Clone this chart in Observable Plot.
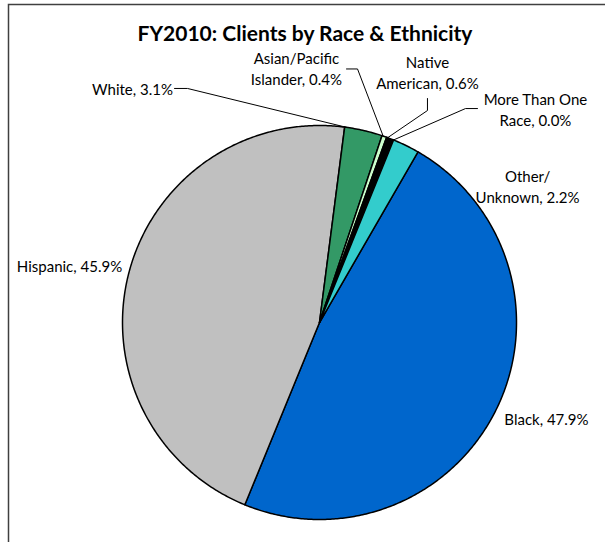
<!DOCTYPE html>
<html><head><meta charset="utf-8">
<script src="https://cdn.jsdelivr.net/npm/d3@7"></script>
<script src="https://cdn.jsdelivr.net/npm/@observablehq/plot@0.6"></script>
<style>
html,body{margin:0;padding:0;overflow:hidden;background:#fff;}
</style></head><body><div id="chart"></div>
<script>
// ---- data ----
const categories = ["Black","Hispanic","White","Asian/Pacific Islander","Native American","More Than One Race","Other/Unknown"];
const percents = [47.9,45.9,3.1,0.4,0.6,0.0,2.2];
const labelTexts = ["Black, 47.9%","Hispanic, 45.9%","White, 3.1%","Asian/Pacific\nIslander, 0.4%","Native\nAmerican, 0.6%","More Than One\nRace, 0.0%","Other/\nUnknown, 2.2%"];
const titleText = "FY2010: Clients by Race & Ethnicity";

// ---- style / layout ----
const colors = ["#0066CC","#C0C0C0","#339966","#CCFFCC","#000000","#FFFFFF","#33CCCC"];
const firstSliceAngle = 30; // degrees clockwise from 12 o'clock
// label centres in pie-radius units (x right, y up, pie centre = 0,0)
const labelPos = [[1.152,-0.487],[-1.269,0.289],[-0.949,1.188],[-0.117,1.292],[0.548,1.274],[1.096,1.084],[1.056,0.695]];
// leader lines: label-side points (radius units) then fraction of slice where it meets the rim
const leaderDefs = [
  {cat:"White", pts:[[-0.736,1.188],[-0.670,1.188]], t:0.05},
  {cat:"Asian/Pacific Islander", pts:[[0.137,1.287],[0.193,1.287]], t:0.25},
  {cat:"Native American", pts:[[0.548,1.137],[0.548,1.076]], t:0.15},
  {cat:"More Than One Race", pts:[[0.802,1.086],[0.741,1.086]], t:0}
];

// ---- geometry from data ----
const total = d3.sum(percents);
let acc = firstSliceAngle;
const slices = categories.map((c,i)=>{
  const a0 = acc, a1 = acc + percents[i]/total*360;
  acc = a1;
  return {cat:c, a0, a1};
});
const polar = (deg, r) => ({x: r*Math.sin(deg*Math.PI/180), y: r*Math.cos(deg*Math.PI/180)});
const piePts = [];
slices.forEach(s=>{
  if (s.a1 - s.a0 <= 0) return;
  piePts.push({cat:s.cat, ...polar(0,0)});
  const n = Math.max(2, Math.ceil((s.a1-s.a0)/0.5));
  for (let k=0;k<=n;k++) piePts.push({cat:s.cat, ...polar(s.a0 + (s.a1-s.a0)*k/n, 1)});
});
const leaderPts = [];
leaderDefs.forEach(L=>{
  const s = slices.find(d=>d.cat===L.cat);
  L.pts.forEach(p=>leaderPts.push({cat:L.cat, x:p[0], y:p[1]}));
  leaderPts.push({cat:L.cat, ...polar(s.a0 + (s.a1-s.a0)*L.t, 1)});
});
const labels = categories.map((c,i)=>({cat:c, text:labelTexts[i], x:labelPos[i][0], y:labelPos[i][1]}));

const chart = Plot.plot({
  width: 605, height: 542,
  marginLeft: 8, marginTop: 4, marginRight: 0, marginBottom: 0,
  x: {domain:[-1,1], range:[122,516], axis:null},
  y: {domain:[-1,1], range:[519,125], axis:null},
  color: {type:"ordinal", domain:categories, range:colors},
  style: {fontFamily:"Lato, 'Open Sans', sans-serif", background:"#fff", color:"#000", overflow:"hidden"},
  marks: [
    Plot.frame({stroke:"#404040", strokeWidth:1.5, insetRight:-10, insetBottom:-10}),
    Plot.line(piePts, {x:"x", y:"y", z:"cat", fill:"cat", stroke:"#000", strokeWidth:1.5, curve:"linear-closed", strokeLinejoin:"round"}),
    Plot.line(leaderPts, {x:"x", y:"y", z:"cat", stroke:"#000", strokeWidth:1, curve:"linear"}),
    Plot.text(labels, {x:"x", y:"y", text:"text", fontSize:15, lineHeight:1.4, fill:"#000", textAnchor:"middle", lineAnchor:"middle"}),
    Plot.text([titleText], {frameAnchor:"top", text:d=>d, dx:-2, dy:30, fontSize:21, fontWeight:"bold", fill:"#000", lineAnchor:"middle"})
  ]
});
document.getElementById("chart").appendChild(chart);
</script></body></html>
